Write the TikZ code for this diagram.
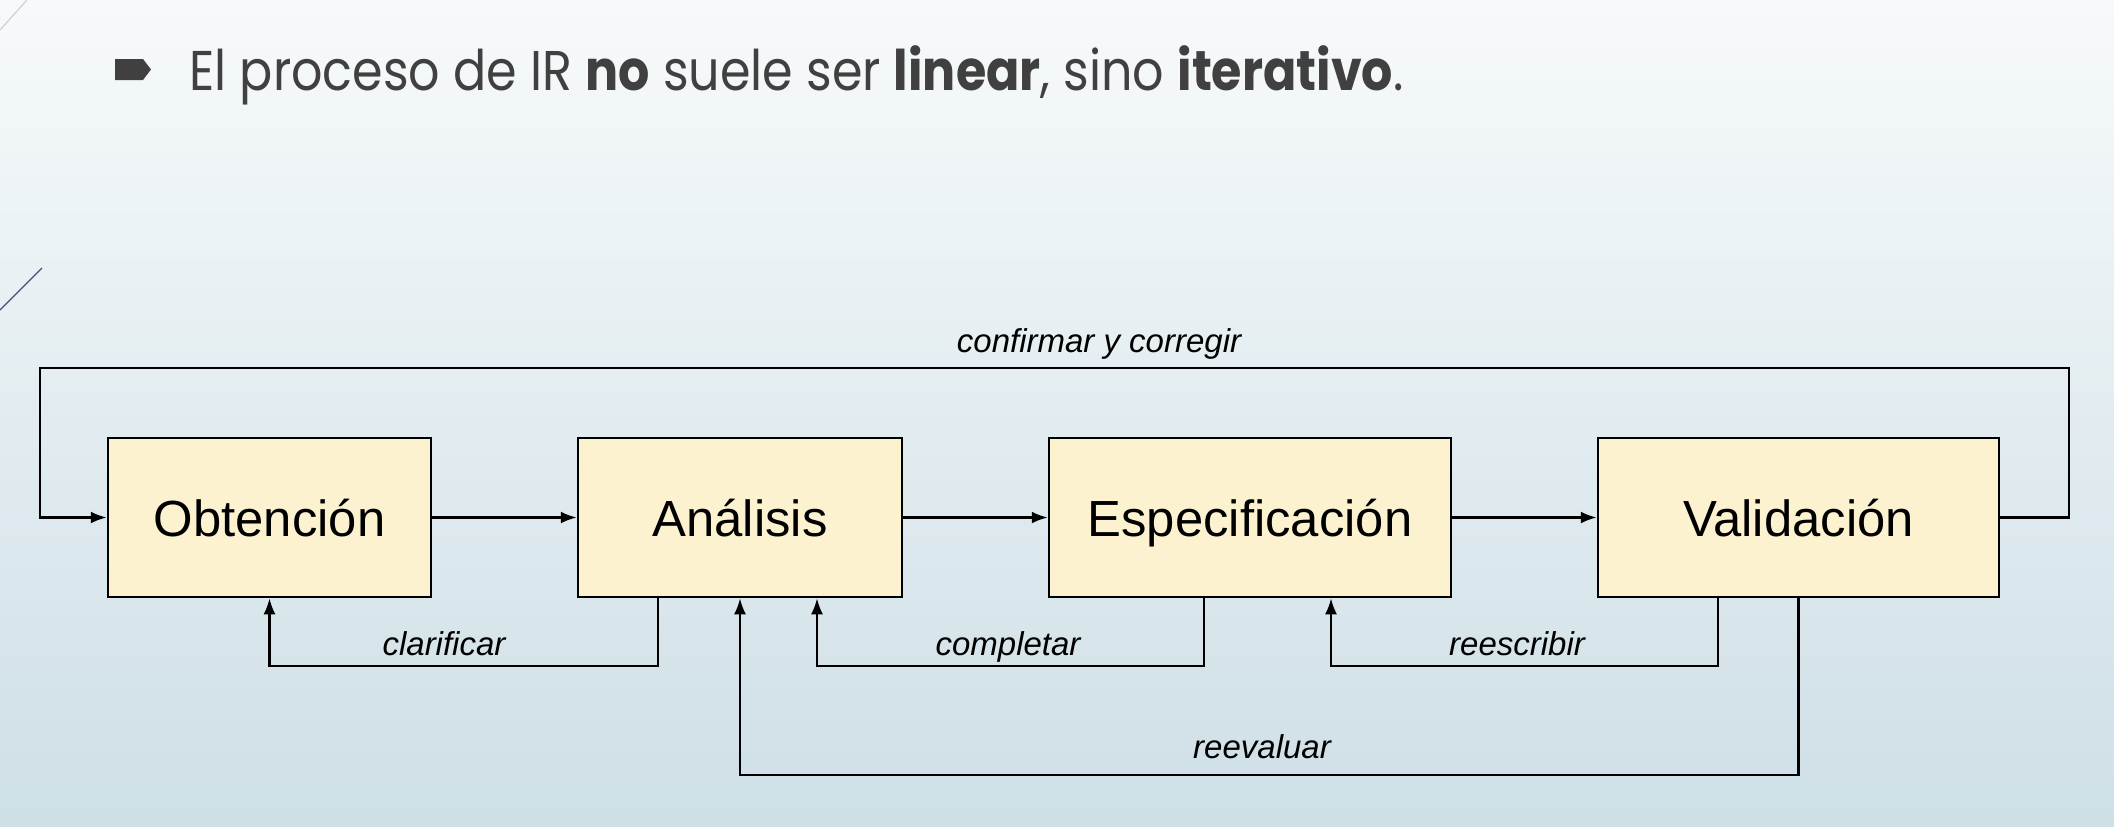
\documentclass[tikz,border=0pt]{standalone}
\usepackage{fontspec}
\setmainfont{Liberation Sans}
\newfontfamily\titlefont{Poppins}
\usetikzlibrary{arrows.meta,calc}
\definecolor{bgtop}{HTML}{F7FAFB}
\definecolor{bgbot}{HTML}{CEDFE6}
\definecolor{boxfill}{HTML}{FDF2D0}
\definecolor{titlegray}{HTML}{404040}
\tikzset{
  stage/.style={draw=black, line width=1.25pt, fill=boxfill, minimum height=79.5pt,
    inner sep=0pt, text height=18.5pt, text depth=0pt, font=\fontsize{25.4pt}{30pt}\selectfont},
  conn/.style={draw=black, line width=1.2pt, -{Latex[length=8pt,width=6pt]}},
  lbl/.style={font=\fontsize{16.5pt}{20pt}\selectfont\itshape, inner sep=0pt, text height=12pt, text depth=0pt},
}
\begin{document}
\begin{tikzpicture}[x=0.5pt,y=-0.5pt]
\useasboundingbox (0,0) rectangle (2114,826);
\shade[top color=bgtop, bottom color=bgbot] (0,0) rectangle (2114,826);
% decorative lines
\draw[color=black!18, line width=0.6pt] (0,30) -- (27,0);
\draw[color=black!60!blue!40!gray, line width=0.6pt] (0,310) -- (42,268);
% bullet and title
\fill[titlegray] (115,59) -- (143,59) -- (151,69.5) -- (143,80) -- (115,80) -- cycle;
\node[anchor=base west, inner sep=0pt, text=titlegray, font=\titlefont\fontsize{28pt}{34pt}\selectfont] (title) at (189,90)
  {\scalebox{0.878}[1]{El proceso de IR \textbf{no} suele ser \textbf{linear}, sino \textbf{iterativo}.}};
% stages
\node[stage, minimum width=161.5pt] (obt) at (269.5,517.5) {Obtención};
\node[stage, minimum width=162pt] (ana) at (740,517.5) {Análisis};
\node[stage, minimum width=201pt] (esp) at (1250,517.5) {Especificación};
\node[stage, minimum width=200.5pt] (val) at (1798.5,517.5) {Validación};
% forward arrows
\draw[conn] (obt) -- (ana);
\draw[conn] (ana) -- (esp);
\draw[conn] (esp) -- (val);
% confirmar y corregir
\coordinate (cR) at (2069,368);
\coordinate (cL) at (40,368);
\draw[conn] (val.east) -| (cR) -- (cL) |- (obt.west);
\node[lbl] (lconf) at (1099,340) {confirmar y corregir};
% clarificar
\draw[conn] (ana.south -| 658,0) -- (658,666) -- (obt.south |- 658,666) -- (obt.south);
\node[lbl] (lclar) at (444,643) {clarificar};
% completar
\draw[conn] (esp.south -| 1204,0) -- (1204,666) -- (817,666) -- (ana.south -| 817,0);
\node[lbl] (lcomp) at (1008,643) {completar};
% reescribir
\draw[conn] (val.south -| 1718,0) -- (1718,666) -- (1331,666) -- (esp.south -| 1331,0);
\node[lbl] (lrees) at (1517,643) {reescribir};
% reevaluar
\draw[conn] (val.south) -- (val.south |- 0,775) -- (ana.south |- 0,775) -- (ana.south);
\node[lbl] (lreev) at (1262,746) {reevaluar};
\end{tikzpicture}
\end{document}
